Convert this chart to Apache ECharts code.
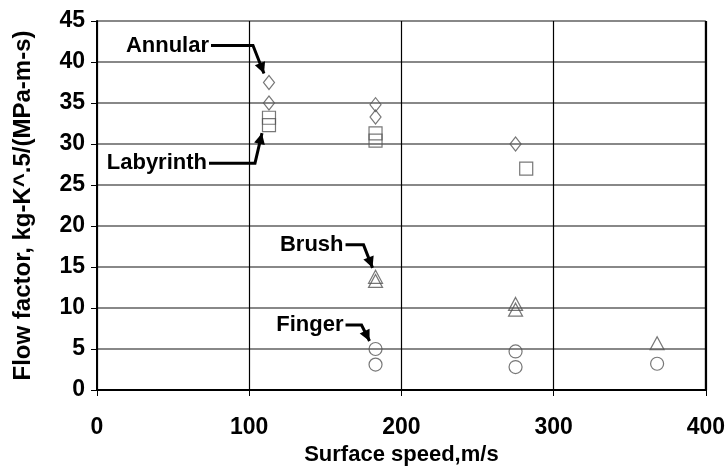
<!DOCTYPE html>
<html>
<head>
<meta charset="utf-8">
<script src="https://cdn.jsdelivr.net/npm/echarts@6/dist/echarts.min.js"></script>
<style>html,body{margin:0;padding:0;background:#fff}#c{width:728px;height:475px}</style>
</head>
<body>
<div id="c"></div>
<script>
var xTicks = [0, 100, 200, 300, 400];
var yTicks = [0, 5, 10, 15, 20, 25, 30, 35, 40, 45];
var annular = [[113, 37.5], [113, 35.0], [183, 34.8], [183, 33.3], [275, 30.0]];
var labyrinth = [[113, 33.2], [113, 32.3], [183, 31.3], [183, 30.4], [282, 27.0]];
var brush = [[183, 13.8], [183, 13.3], [275, 10.5], [275, 9.8], [368, 5.7]];
var finger = [[183, 5.0], [183, 3.1], [275, 4.7], [275, 2.8], [368, 3.2]];
var labels = ['Annular', 'Labyrinth', 'Brush', 'Finger'];

var FONT = 'Liberation Sans, Arial, sans-serif';
var chart = echarts.init(document.getElementById('c'), null, {renderer: 'canvas'});
var mk = '#555';
function ser(name, data, sym, size) {
  return {
    name: name, type: 'scatter', data: data, symbol: sym, symbolSize: size,
    itemStyle: {color: 'rgba(255,255,255,0)', borderColor: mk, borderWidth: 1.2},
    z: 5
  };
}
chart.setOption({
  animation: false,
  grid: {left: 97, right: 21, top: 21, bottom: 85, show: false},
  xAxis: {
    type: 'value', min: xTicks[0], max: xTicks[xTicks.length - 1], interval: 100,
    name: 'Surface speed,m/s', nameLocation: 'middle', nameGap: 54,
    nameTextStyle: {fontFamily: FONT, fontWeight: 'bold', fontSize: 22, color: '#000'},
    axisLine: {lineStyle: {color: '#000', width: 2}},
    axisTick: {show: true, inside: false, length: 6, lineStyle: {color: '#000', width: 1}},
    axisLabel: {fontFamily: FONT, fontWeight: 'bold', fontSize: 23, color: '#000', margin: 26},
    splitLine: {show: true, lineStyle: {color: '#000', width: 1.2}}
  },
  yAxis: {
    type: 'value', min: yTicks[0], max: yTicks[yTicks.length - 1], interval: 5,
    name: 'Flow factor, kg-K^.5/(MPa-m-s)', nameLocation: 'middle', nameGap: 62,
    nameTextStyle: {fontFamily: FONT, fontWeight: 'bold', fontSize: 24, color: '#000'},
    axisLine: {lineStyle: {color: '#000', width: 2}},
    axisTick: {show: true, length: 6, lineStyle: {color: '#000', width: 1}},
    axisLabel: {fontFamily: FONT, fontWeight: 'bold', fontSize: 23, color: '#000', margin: 12},
    splitLine: {show: true, lineStyle: {color: '#888', width: 2}}
  },
  series: [
    ser(labels[0], annular, 'diamond', [11, 14]),
    ser(labels[1], labyrinth, 'rect', 13),
    ser(labels[2], brush, 'triangle', [14, 13]),
    ser(labels[3], finger, 'circle', 13)
  ]
});

function px(p) { return chart.convertToPixel({gridIndex: 0}, p); }
var tl = px([400, 45]), br = px([400, 0]);
var g = [{type: 'line', shape: {x1: tl[0], y1: tl[1], x2: br[0], y2: br[1]}, style: {stroke: '#000', lineWidth: 2}, z: 3}];

function annot(text, target, tdx, tdy, path) {
  var t = px(target);
  g.push({type: 'text', x: t[0] + tdx, y: t[1] + tdy,
    style: {text: text, font: 'bold 22px ' + FONT, fill: '#000', textAlign: 'right', textVerticalAlign: 'middle'}, z: 10});
  var pts = path.map(function (d) { return [t[0] + d[0], t[1] + d[1]]; });
  g.push({type: 'polyline', shape: {points: pts}, style: {stroke: '#000', lineWidth: 3, fill: null}, z: 10});
  var a = pts[pts.length - 2], b = pts[pts.length - 1];
  var ang = Math.atan2(b[1] - a[1], b[0] - a[0]);
  var L = 11, W = 5.5;
  var bx = b[0] - L * Math.cos(ang), by = b[1] - L * Math.sin(ang);
  g.push({type: 'polygon', shape: {points: [
    [b[0], b[1]],
    [bx + W * Math.sin(ang), by - W * Math.cos(ang)],
    [bx - W * Math.sin(ang), by + W * Math.cos(ang)]
  ]}, style: {fill: '#000'}, z: 10});
}
annot(labels[0], annular[0], -60, -37, [[-58, -37], [-16, -37], [-5, -9]]);
annot(labels[1], labyrinth[1], -62, 38, [[-60, 38], [-14, 38], [-7, 8]]);
annot(labels[2], brush[0], -32, -32, [[-30, -32], [-12, -32], [-3, -9]]);
annot(labels[3], finger[0], -32, -24, [[-30, -24], [-14, -24], [-6, -8]]);
chart.setOption({graphic: g});
</script>
</body>
</html>
